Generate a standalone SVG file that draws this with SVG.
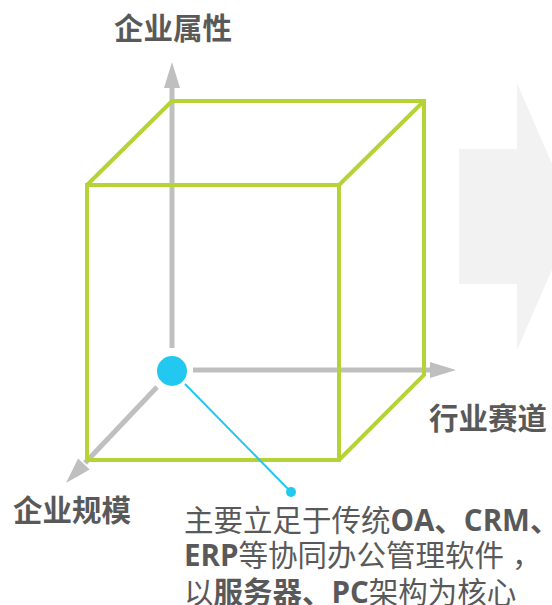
<svg xmlns="http://www.w3.org/2000/svg" width="552" height="605" viewBox="0 0 552 605">
<style>
.lbl{font-family:"Open Sans","Noto Sans CJK SC",sans-serif;font-size:29.5px;font-weight:bold;fill:#595959}
.note{font-family:"Open Sans","Noto Sans CJK SC",sans-serif;font-size:29.5px;fill:#595959}
.b{font-weight:bold}
.axis{stroke:#bfbfbf;stroke-width:5;fill:none}
.head{fill:#bfbfbf}
.cube{stroke:#b5d334;stroke-width:4;fill:none;stroke-linejoin:miter}
</style>
<rect width="552" height="605" fill="#ffffff"/>
<g id="bigArrow">
<polygon points="459,149 517,149 517,83 575,217 517,350 517,284 459,284" fill="#f2f2f2"/>
</g>
<g id="connectors">
<line class="axis" x1="172" y1="86" x2="172" y2="348"/>
<polygon class="head" points="172,62 180,88 164,88"/>
<line class="axis" x1="193" y1="370" x2="432" y2="370"/>
<polygon class="head" points="456,370 430,362 430,378"/>
<line class="axis" x1="157" y1="387" x2="85" y2="463"/>
<polygon class="head" points="66,483 89.7,469.6 78.1,458.6"/>
</g>
<g id="cube">
<rect class="cube" x="87" y="185" width="252" height="275"/>
<polyline class="cube" points="87,185 172,101 424,101 424,375 339,460"/>
<line class="cube" x1="339" y1="185" x2="424" y2="101"/>
</g>
<g id="point">
<circle cx="172" cy="371" r="18" fill="#22c8f0" stroke="#ffffff" stroke-width="6"/>
</g>
<g id="leader">
<line x1="185" y1="384" x2="291" y2="492" stroke="#22c8f0" stroke-width="2"/>
<circle cx="291" cy="492" r="5" fill="#22c8f0"/>
</g>
<g id="label-attr"><text class="lbl" x="114" y="39">企业属性</text></g>
<g id="label-industry"><text class="lbl" x="429" y="429">行业赛道</text></g>
<g id="label-scale"><text class="lbl" x="13" y="521">企业规模</text></g>
<g id="note">
<text class="note" x="184" y="531">主要立足于传统<tspan class="b">OA、CRM、</tspan></text>
<text class="note" x="184" y="566"><tspan class="b">ERP</tspan>等协同办公管理软件<tspan dx="8">，</tspan></text>
<text class="note" x="184" y="603">以<tspan class="b">服务器、PC</tspan>架构为核心</text>
</g>
</svg>
